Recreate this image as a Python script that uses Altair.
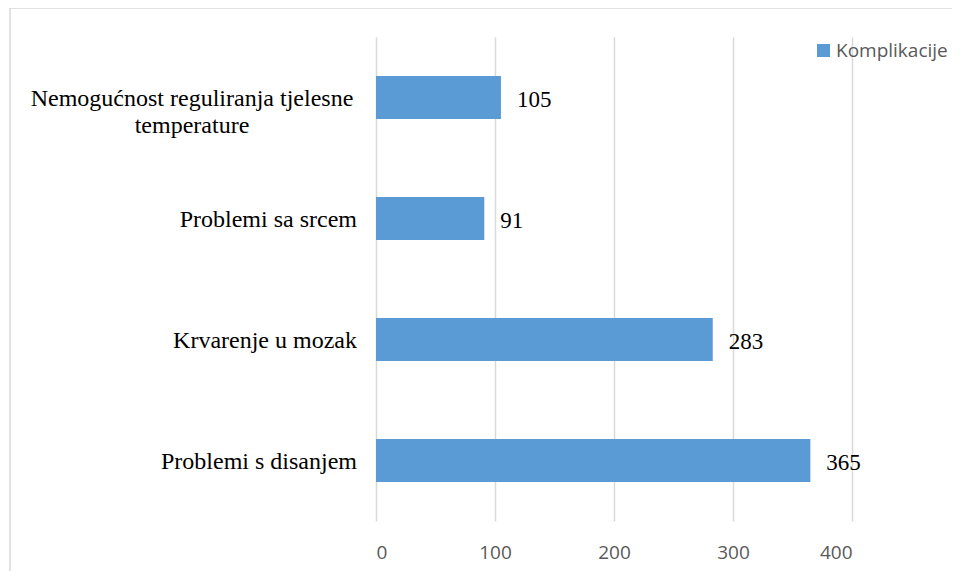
import altair as alt
import pandas as pd

categories = [
    "Nemogućnost reguliranja tjelesne temperature",
    "Problemi sa srcem",
    "Krvarenje u mozak",
    "Problemi s disanjem",
]
display_labels = [
    "Nemogućnost reguliranja tjelesne\ntemperature",
    "Problemi sa srcem",
    "Krvarenje u mozak",
    "Problemi s disanjem",
]
multiline = [True, False, False, False]
values = [105, 91, 283, 365]
series_name = "Komplikacije"
x_ticks = [0, 100, 200, 300, 400]

df = pd.DataFrame({
    "category": categories,
    "label": display_labels,
    "multi": multiline,
    "value": values,
    "series": [series_name] * len(categories),
})

W, H = 476, 484
y_scale = alt.Scale(domain=categories, paddingInner=0.645, paddingOuter=0.3225)
x_scale = alt.Scale(domain=[0, 400], nice=False)

base = alt.Chart(df)

bars = base.mark_bar(color="#5b9bd5").encode(
    x=alt.X("value:Q", scale=x_scale,
            axis=alt.Axis(values=x_ticks, domain=False, ticks=False, grid=True,
                          gridColor="#d9d9d9", gridWidth=1.5,
                          labelFont="Open Sans", labelFontSize=19,
                          labelColor="#595959", labelPadding=22, title=None)),
    y=alt.Y("category:N", scale=y_scale, axis=None, sort=categories),
    color=alt.Color("series:N", scale=alt.Scale(range=["#5b9bd5"]),
                    legend=alt.Legend(orient="none", legendX=438, legendY=4,
                                      title=None, symbolType="square",
                                      symbolSize=170, symbolStrokeWidth=0,
                                      labelOffset=3,
                                      labelFont="Open Sans", labelFontSize=19,
                                      labelColor="#595959")),
)

value_text = base.mark_text(align="left", baseline="middle", dx=16, dy=2,
                            font="Liberation Serif", fontSize=23,
                            color="#000000").encode(
    x=alt.X("value:Q", scale=x_scale),
    y=alt.Y("category:N", scale=y_scale, sort=categories),
    text="value:Q",
)

single_labels = base.transform_filter("!datum.multi").mark_text(
    align="right", baseline="middle", font="Liberation Serif", fontSize=24,
    color="#000000", dy=1).encode(
    x=alt.value(-19),
    y=alt.Y("category:N", scale=y_scale, sort=categories),
    text="label:N",
)

multi_labels = base.transform_filter("datum.multi").mark_text(
    align="center", baseline="middle", font="Liberation Serif", fontSize=24,
    color="#000000", lineBreak="\n", lineHeight=27, dy=1).encode(
    x=alt.value(-184),
    y=alt.Y("category:N", scale=y_scale, sort=categories),
    text="label:N",
)

border = alt.Chart(alt.Data(values=[{}])).mark_rect(
    fillOpacity=0, stroke="#d9d9d9", strokeWidth=1.5).encode(
    x=alt.value(-366), x2=alt.value(700), y=alt.value(-29), y2=alt.value(700))

chart = alt.layer(border, bars, value_text, single_labels, multi_labels).properties(
    width=W, height=H,
    autosize=alt.AutoSizeParams(type="none"),
    padding={"left": 368, "top": 29, "right": 100, "bottom": 50},
).configure_view(stroke=None)

chart.save("out.html", embed_options={"renderer": "svg", "actions": False})
